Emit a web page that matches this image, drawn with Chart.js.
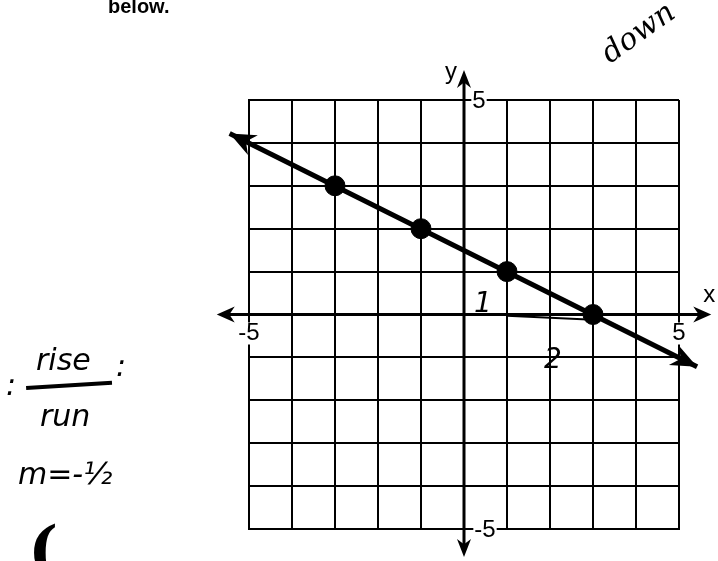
<!DOCTYPE html>
<html>
<head>
<meta charset="utf-8">
<script src="https://cdn.jsdelivr.net/npm/chart.js@4"></script>
<style>
html, body { margin: 0; padding: 0; background: #fff; }
#wrap { width: 718px; height: 561px; }
</style>
</head>
<body>
<div id="wrap"><canvas id="graph"></canvas></div>
<script>
// plotted points on the line y = -x/2 + 3/2
var pointX = [-3, -1, 1, 3];
var pointY = [3, 2, 1, 0];
// ends of the drawn line (arrow tips)
var lineX = [-5.45, 5.42];
var lineY = [4.22, -1.22];
// ends of the axes (arrow tips)
var axisX = [-5.75, 5.75];
var axisY = [5.7, -5.65];
// hand drawn "run" stroke under the x axis
var runX = [1, 3];
var runY = [-0.03, -0.12];
// axis tick labels
var tickValues = [-5, 5];
var tickLabels = ['-5', '5'];

function arrowHead(ctx, x, y, angle, len, half) {
  ctx.save();
  ctx.translate(x, y);
  ctx.rotate(angle);
  ctx.beginPath();
  ctx.moveTo(0, 0);
  ctx.lineTo(-len, -half);
  ctx.lineTo(-len * 0.7, 0);
  ctx.lineTo(-len, half);
  ctx.closePath();
  ctx.fillStyle = '#000';
  ctx.fill();
  ctx.restore();
}

function label(ctx, text, x, y) {
  var w = ctx.measureText(text).width;
  ctx.fillStyle = '#fff';
  ctx.fillRect(x - w / 2 - 1, y - 11, w + 2, 22);
  ctx.fillStyle = '#000';
  ctx.fillText(text, x, y);
}

var axesPlugin = {
  id: 'axes',
  beforeDatasetsDraw: function (chart) {
    var ctx = chart.ctx;
    var xs = chart.scales.x, ys = chart.scales.y;
    var x0 = xs.getPixelForValue(0), y0 = ys.getPixelForValue(0);
    ctx.save();
    ctx.strokeStyle = '#000';
    ctx.lineWidth = 3;
    var xl = xs.getPixelForValue(axisX[0]), xr = xs.getPixelForValue(axisX[1]);
    var yt = ys.getPixelForValue(axisY[0]), yb = ys.getPixelForValue(axisY[1]);
    ctx.beginPath();
    ctx.moveTo(xl + 6, y0); ctx.lineTo(xr - 6, y0);
    ctx.moveTo(x0, yt + 6); ctx.lineTo(x0, yb - 6);
    ctx.stroke();
    arrowHead(ctx, xl, y0, Math.PI, 18, 8);
    arrowHead(ctx, xr, y0, 0, 18, 8);
    arrowHead(ctx, x0, yt, -Math.PI / 2, 18, 7);
    arrowHead(ctx, x0, yb, Math.PI / 2, 18, 7);

    // run stroke
    ctx.lineWidth = 2;
    ctx.beginPath();
    ctx.moveTo(xs.getPixelForValue(runX[0]), ys.getPixelForValue(runY[0]));
    ctx.lineTo(xs.getPixelForValue(runX[1]), ys.getPixelForValue(runY[1]));
    ctx.stroke();

    ctx.font = '24px "Liberation Sans", Arial, sans-serif';
    ctx.textAlign = 'center';
    ctx.textBaseline = 'middle';
    label(ctx, tickLabels[0], xs.getPixelForValue(tickValues[0]), y0 + 19);
    label(ctx, tickLabels[1], xs.getPixelForValue(tickValues[1]), y0 + 19);
    label(ctx, tickLabels[1], x0 + 15, ys.getPixelForValue(tickValues[1]) + 1);
    label(ctx, tickLabels[0], x0 + 21, ys.getPixelForValue(tickValues[0]) + 1);
    ctx.fillStyle = '#000';
    ctx.fillText('x', xr - 2, y0 - 19);
    ctx.fillText('y', x0 - 13, yt + 2);
    ctx.restore();
  },
  afterDatasetsDraw: function (chart) {
    var ctx = chart.ctx;
    var xs = chart.scales.x, ys = chart.scales.y;
    var ax = xs.getPixelForValue(lineX[0]), ay = ys.getPixelForValue(lineY[0]);
    var bx = xs.getPixelForValue(lineX[1]), by = ys.getPixelForValue(lineY[1]);
    var ang = Math.atan2(by - ay, bx - ax);
    arrowHead(ctx, ax, ay, ang + Math.PI, 26, 11);
    arrowHead(ctx, bx, by, ang, 26, 11);

    // page text and handwritten notes
    ctx.save();
    ctx.fillStyle = '#000';
    ctx.font = 'bold 20px "Liberation Sans", Arial, sans-serif';
    ctx.textBaseline = 'alphabetic';
    ctx.fillText('below.', 108, 13);
    ctx.font = 'italic 30px "DejaVu Serif", serif';
    ctx.save();
    ctx.translate(610, 64);
    ctx.rotate(-0.62);
    ctx.fillText('down', 0, 0);
    ctx.restore();
    ctx.font = 'italic 30px "DejaVu Sans", sans-serif';
    ctx.fillText('rise', 36, 370);
    ctx.fillText('run', 40, 426);
    ctx.fillText(':', 6, 395);
    ctx.fillText(':', 116, 376);
    ctx.save();
    ctx.translate(26, 386);
    ctx.rotate(-0.06);
    ctx.fillRect(0, 0, 86, 4);
    ctx.restore();
    ctx.fillText('m=-\u00bd', 18, 484);
    ctx.font = 'bold 64px "DejaVu Serif", serif';
    ctx.fillText('(', 28, 572);
    ctx.font = 'italic 28px "DejaVu Sans", sans-serif';
    ctx.fillText('1', 474, 312);
    ctx.fillText('2', 544, 368);
    ctx.restore();
  }
};

var ctx = document.getElementById('graph').getContext('2d');
var chart = new Chart(ctx, {
  type: 'scatter',
  data: {
    datasets: [{
      label: 'line',
      data: lineX.map(function (x, i) { return { x: x, y: lineY[i] }; }),
      showLine: true,
      borderColor: '#000',
      borderWidth: 5,
      pointRadius: 0,
      clip: false
    }, {
      label: 'points',
      data: pointX.map(function (x, i) { return { x: x, y: pointY[i] }; }),
      backgroundColor: '#000',
      borderColor: '#000',
      pointRadius: 10,
      clip: false
    }]
  },
  plugins: [axesPlugin],
  options: {
    responsive: true,
    maintainAspectRatio: false,
    animation: false,
    layout: { padding: { left: 249, right: 39, top: 100, bottom: 32 } },
    plugins: { legend: { display: false }, tooltip: { enabled: false } },
    scales: {
      x: {
        type: 'linear', min: -5, max: 5,
        ticks: { display: false, stepSize: 1 },
        grid: { color: '#000', lineWidth: 2, drawTicks: false },
        border: { display: true, color: '#000', width: 2 }
      },
      y: {
        type: 'linear', min: -5, max: 5,
        ticks: { display: false, stepSize: 1 },
        grid: { color: '#000', lineWidth: 2, drawTicks: false },
        border: { display: true, color: '#000', width: 2 }
      }
    }
  }
});
</script>
</body>
</html>
